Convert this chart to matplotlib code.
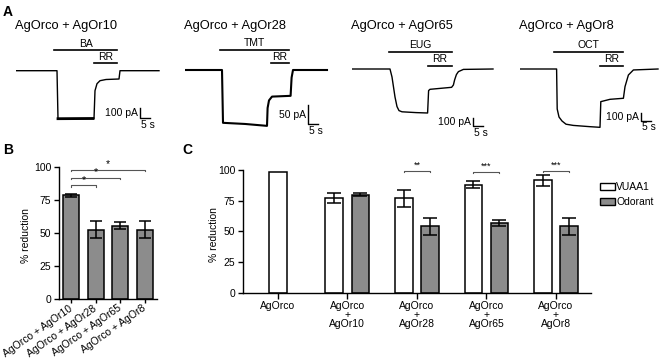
import matplotlib
matplotlib.use('Agg')
import matplotlib.pyplot as plt
from matplotlib.patches import Patch
import numpy as np

plt.rcParams['font.family'] = ['Liberation Sans', 'DejaVu Sans']

W, H = 662, 361
fig = plt.figure(figsize=(W / 100, H / 100), dpi=100)

# ---------------- Panel A data (time in s, current in pA) ----------------
trace_titles = ['AgOrco + AgOr10', 'AgOrco + AgOr28', 'AgOrco + AgOr65', 'AgOrco + AgOr8']
odorants = ['BA', 'TMT', 'EUG', 'OCT']
odor_on = [19.0, 17.5, 18.5, 17.0]
odor_off = [50.5, 52.0, 50.0, 51.5]
rr_on = [39.0, 43.0, 38.0, 40.0]
rr_off = [50.5, 52.0, 50.0, 51.5]
scale_pa = [100, 50, 100, 100]
scale_s = 5

t1 = [0, 20.5, 21.0, 38.5, 39.0, 39.5, 40.5, 42.0, 45.0, 51.5, 52.0, 71.5]
i1 = [0, 0, -480, -478, -480, -200, -130, -100, -88, -83, 0, 0]

t2 = [0, 18.5, 19.0, 30.0, 41.0, 41.3, 42.0, 43.5, 52.8, 53.3, 54.0, 71.0]
i2 = [0, 0, -139, -142, -147, -100, -80, -70, -68, -20, 0, 0]

t3 = [0, 19.0, 20.0, 21.5, 22.5, 23.5, 25.0, 32.0, 37.8, 38.3, 39.0, 49.8,
      50.7, 51.3, 52.2, 53.2, 55.7, 70.5]
i3 = [0, 0, -100, -350, -470, -520, -535, -545, -550, -270, -254, -229,
      -200, -137, -70, -33, -5, 0]

t4 = [0, 18.3, 18.6, 19.5, 21.0, 23.0, 26.6, 35.0, 40.0, 40.4, 45.0, 51.7,
      52.5, 54.2, 56.7, 69.0]
i4 = [0, 0, -500, -600, -650, -690, -705, -721, -729, -408, -379, -366,
      -221, -75, -12, 0]

traces_t = [t1, t2, t3, t4]
traces_i = [i1, i2, i3, i4]

# ---------------- Panel B data ----------------
b_labels = ['AgOrco + AgOr10', 'AgOrco + AgOr28', 'AgOrco + AgOr65', 'AgOrco + AgOr8']
b_vals = [78.5, 52.5, 55.5, 52.5]
b_err = [1.2, 6.5, 2.8, 6.5]
b_sig_pairs = [(0, 1), (0, 2), (0, 3)]
b_sig_marks = ['*', '*', '*']

# ---------------- Panel C data ----------------
c_groups = ['AgOrco', 'AgOrco\n+\nAgOr10', 'AgOrco\n+\nAgOr28',
            'AgOrco\n+\nAgOr65', 'AgOrco\n+\nAgOr8']
vuaa1 = [98.0, 77.0, 77.0, 88.0, 91.5]
vuaa1_err = [0.0, 4.3, 7.0, 2.7, 4.3]
odorant = [np.nan, 80.0, 54.0, 57.0, 54.0]
odorant_err = [np.nan, 1.2, 6.8, 2.5, 6.7]
c_sig_groups = [2, 3, 4]
c_sig_marks = ['**', '***', '***']

GRAY = '#8c8c8c'
FS_TICK = 7.5


def fx(px):
    return px / W


def fy(py):
    return 1 - py / H


# ---------------- Panel A ----------------
lefts = [16, 185, 352, 520]
bases = [70.7, 70.0, 69.0, 69.0]
ppa = [0.1, 0.38, 0.08, 0.08]
pps = 2.0
lws = [1.0, 1.5, 1.0, 1.0]
odor_bar_px = [50, 50, 52, 52]
rr_bar_px = [63, 63, 66, 66]
scale_x_px = [140, 308, 473, 641]
scale_bot_px = [118, 124, 126, 121]
top_px, bot_px, wid_px = 20, 150, 150

for k in range(4):
    ax = fig.add_axes([fx(lefts[k]), fy(bot_px), wid_px / W, (bot_px - top_px) / H])
    ax.set_xlim(0, wid_px / pps)
    ax.set_ylim(-(bot_px - bases[k]) / ppa[k], (bases[k] - top_px) / ppa[k])
    ax.axis('off')
    ax.plot(traces_t[k], traces_i[k], color='black', lw=lws[k], solid_joinstyle='round')
    if k == 0:
        ax.plot(traces_t[k][2:4], traces_i[k][2:4], color='black', lw=2.0)
    yb = (bases[k] - odor_bar_px[k]) / ppa[k]
    yr = (bases[k] - rr_bar_px[k]) / ppa[k]
    ax.plot([odor_on[k], odor_off[k]], [yb, yb], color='black', lw=1.2)
    ax.plot([rr_on[k], rr_off[k]], [yr, yr], color='black', lw=1.2)
    ax.text((odor_on[k] + odor_off[k]) / 2, yb + 1.5 / ppa[k], odorants[k],
            ha='center', va='bottom', fontsize=FS_TICK)
    ax.text((rr_on[k] + rr_off[k]) / 2, yr + 1.5 / ppa[k], 'RR',
            ha='center', va='bottom', fontsize=FS_TICK)
    # scale bar
    sx = (scale_x_px[k] - lefts[k]) / pps
    sy = (bases[k] - scale_bot_px[k]) / ppa[k]
    ax.plot([sx, sx, sx + scale_s], [sy + scale_pa[k], sy, sy], color='black', lw=1.0,
            clip_on=False)
    ax.text(sx - 1.0, sy + scale_pa[k] * 0.5, f'{scale_pa[k]} pA', ha='right', va='center',
            fontsize=FS_TICK)
    ax.text(sx + 0.5, sy - 1.5 / ppa[k], f'{scale_s} s', ha='left', va='top',
            fontsize=FS_TICK)
    fig.text(fx(lefts[k] - 1), fy(26), trace_titles[k], ha='left', va='center', fontsize=9.3)

fig.text(fx(3), fy(12), 'A', fontsize=10, fontweight='bold', va='center', ha='left')
fig.text(fx(3), fy(150), 'B', fontsize=10, fontweight='bold', va='center', ha='left')
fig.text(fx(182), fy(150), 'C', fontsize=10, fontweight='bold', va='center', ha='left')


def style_axes(ax):
    for s in ['top', 'right']:
        ax.spines[s].set_visible(False)
    for s in ['left', 'bottom']:
        ax.spines[s].set_linewidth(1.0)
    ax.set_ylim(0, 100)
    ax.set_yticks([0, 25, 50, 75, 100])
    ax.tick_params(axis='y', length=3.5, width=1.0, pad=2, labelsize=FS_TICK)
    ax.set_ylabel('% reduction', fontsize=FS_TICK)


def bracket(ax, x0, x1, y, mark, drop=1.5, fs=6.5):
    ax.plot([x0, x0, x1, x1], [y - drop, y, y, y - drop], color='#555555', lw=0.8,
            clip_on=False)
    ax.text((x0 + x1) / 2, y + 0.5, mark, ha='center', va='bottom', fontsize=fs,
            clip_on=False)


# ---------------- Panel B ----------------
axb = fig.add_axes([fx(59), fy(299), 98 / W, 132 / H])
xb = np.arange(len(b_vals))
axb.bar(xb, b_vals, width=0.65, color=GRAY, edgecolor='black', linewidth=1.1, zorder=2)
axb.errorbar(xb, b_vals, yerr=b_err, fmt='none', ecolor='black', elinewidth=1.1,
             capsize=4.3, capthick=1.1, zorder=3)
axb.set_xlim(-0.5, 3.5)
style_axes(axb)
axb.set_xticks(xb)
axb.set_xticklabels(b_labels, rotation=35, ha='right', va='center', rotation_mode='anchor',
                    fontsize=FS_TICK)
axb.tick_params(axis='x', length=3, width=1.0, pad=3)
axb.yaxis.set_label_coords(-0.29, 0.48)
for (i0, i1_), h, m in zip(b_sig_pairs, [86, 92, 98], b_sig_marks):
    bracket(axb, xb[i0], xb[i1_], h, m, drop=0.8, fs=7.5)

# ---------------- Panel C ----------------
axc = fig.add_axes([fx(243), fy(292.7), (590.7 - 243) / W, (292.7 - 170) / H])
xc = np.arange(len(c_groups))
bw, off = 0.253, 0.188
x_white = np.array([0.0] + list(xc[1:] - off))
x_gray = xc + off
axc.bar(x_white, vuaa1, width=bw, color='white', edgecolor='black', linewidth=1.1,
        zorder=2, label='VUAA1')
axc.bar(x_gray, odorant, width=bw, color=GRAY, edgecolor='black', linewidth=1.1,
        zorder=2, label='Odorant')
axc.errorbar(x_white[1:], vuaa1[1:], yerr=vuaa1_err[1:], fmt='none', ecolor='black',
             elinewidth=1.1, capsize=4.8, capthick=1.1, zorder=3)
axc.errorbar(x_gray[1:], odorant[1:], yerr=odorant_err[1:], fmt='none', ecolor='black',
             elinewidth=1.1, capsize=4.8, capthick=1.1, zorder=3)
axc.set_xlim(-0.5, 4.5)
style_axes(axc)
axc.set_xticks(xc)
axc.set_xticklabels(c_groups, fontsize=FS_TICK, linespacing=0.85)
axc.tick_params(axis='x', length=4, width=1.0, pad=2)
axc.yaxis.set_label_coords(-0.07, 0.47)
for g, h, m in zip(c_sig_groups, [99.5, 98.6, 99.4], c_sig_marks):
    bracket(axc, x_white[g], x_gray[g], h, m, drop=1.2)

handles = [Patch(facecolor='white', edgecolor='black', linewidth=1.0, label='VUAA1'),
           Patch(facecolor=GRAY, edgecolor='black', linewidth=1.0, label='Odorant')]
fig.legend(handles=handles, loc='upper left', bbox_to_anchor=(fx(600), fy(182)),
           frameon=False, fontsize=7.5, handlelength=1.4, handleheight=0.65,
           handletextpad=0.15, labelspacing=0.45, borderpad=0, borderaxespad=0)

fig.savefig('out.png', dpi=100)
